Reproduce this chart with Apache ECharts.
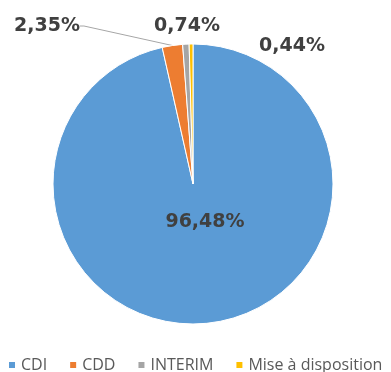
<!DOCTYPE html>
<html>
<head>
<meta charset="utf-8">
<script src="https://cdn.jsdelivr.net/npm/echarts@6/dist/echarts.min.js"></script>
<style>
  html, body { margin: 0; padding: 0; background: #fff; }
  #chart { width: 391px; height: 372px; }
</style>
</head>
<body>
<div id="chart"></div>
<script>
// Répartition des contrats
const categories = ['CDI', 'CDD', 'INTERIM', 'Mise à disposition'];
const shares = [96.48, 2.35, 0.74, 0.44];
const colors = ['#5B9BD5', '#ED7D31', '#A5A5A5', '#FFC000'];

// Label anchor points (pixels) for each slice's value text
const labelSpots = [
  { x: 205, y: 222 },
  { x: 47, y: 26 },
  { x: 187, y: 26 },
  { x: 292, y: 46 }
];

const fmt = v => v.toFixed(2).replace('.', ',') + '%';

const chart = echarts.init(document.getElementById('chart'));
chart.setOption({
  animation: false,
  color: colors,
  legend: {
    top: 357,
    left: 7,
    width: 600,
    padding: 0,
    itemWidth: 8,
    itemHeight: 8,
    itemGap: 21,
    icon: 'rect',
    textStyle: { color: '#595959', fontSize: 16, fontFamily: 'Open Sans' },
    data: categories
  },
  series: [{
    type: 'pie',
    center: [193, 184],
    radius: 140,
    startAngle: 90,
    clockwise: true,
    itemStyle: { borderColor: '#fff', borderWidth: 1 },
    label: {
      show: true,
      position: 'outside',
      formatter: p => fmt(p.value),
      color: '#404040',
      fontSize: 19,
      fontWeight: 'bold',
      fontFamily: 'DejaVu Sans'
    },
    labelLine: { show: false, lineStyle: { color: '#A6A6A6', width: 1 }, length: 4, length2: 4 },
    labelLayout: function (params) {
      const s = labelSpots[params.dataIndex];
      return { x: s.x, y: s.y, align: 'center', verticalAlign: 'middle' };
    },
    data: categories.map((name, i) => ({
      name: name,
      value: shares[i],
      labelLine: { show: i === 1 }
    }))
  }]
});
</script>
</body>
</html>
